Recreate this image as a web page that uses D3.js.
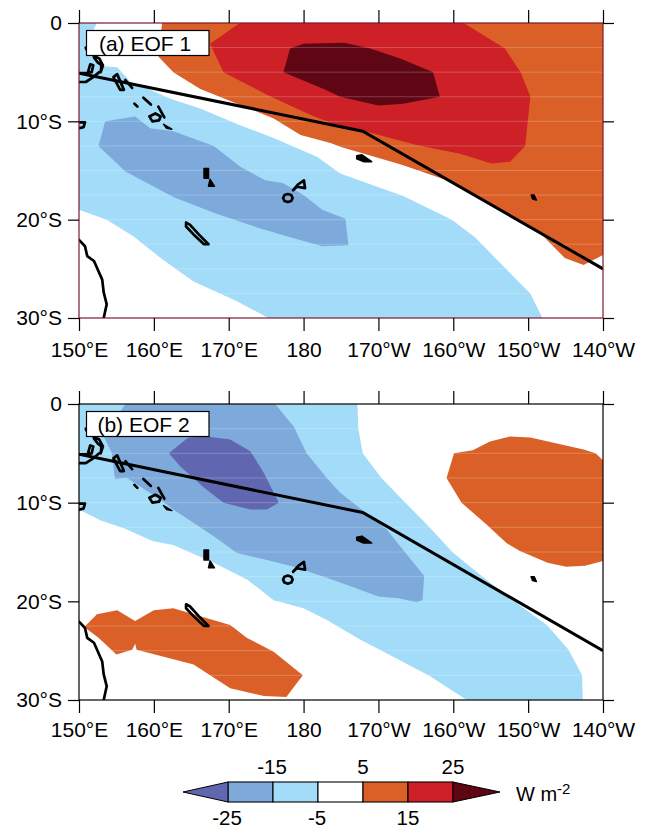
<!DOCTYPE html>
<html><head><meta charset="utf-8">
<script src="https://cdn.jsdelivr.net/npm/d3@7"></script>
<style>html,body{margin:0;padding:0;background:#fff}svg{display:block}text{font-family:"Liberation Sans",Arial,sans-serif;fill:#000}</style>
</head><body><svg id="c" width="646" height="828"></svg>
<script>
// ---- categories, ticks ----
const lonTicks=[150,160,170,180,190,200,210,220];
const lonLabels=["150°E","160°E","170°E","180","170°W","160°W","150°W","140°W"];
const latTicks=[0,-10,-20,-30];
const latLabels=["0","10°S","20°S","30°S"];
const gridLats=[-2.5,-5,-7.5,-10,-12.5,-15,-17.5,-20,-22.5,-25,-27.5];
const levels=[-25,-15,-5,5,15,25];
const levelColors=["#6067b0","#7daadb","#a3dcf8","#ffffff","#db6027","#cd2027","#5e0613"];

// ---- EOF 1 contours [lon, lat] ----
const a_lightblue=[[150,0],[152.4,0],[150.8,-2.4],[152,-3.6],[153.3,-4.4],[155.1,-4.5],[156.9,-6],[159.5,-6.8],[162.2,-7.7],[166.2,-8.7],[171.5,-10.4],[176,-11.7],[181.8,-13.6],[184.9,-15.3],[193.3,-17.6],[199.8,-20],[202.9,-21.8],[206.9,-24.9],[210.3,-27.5],[211.9,-30],[175.3,-30],[171.1,-28.3],[165.3,-26.3],[160.9,-23.9],[157.3,-21.7],[153.7,-20],[150,-19]];
const a_blue=[[152.6,-12.5],[153.5,-10],[157.5,-9.5],[159.5,-10.7],[162.6,-11],[168,-12.5],[171.5,-14.6],[174.9,-16],[177.3,-16.3],[180,-17.5],[182.5,-19],[185.6,-19.9],[186,-22.6],[182.5,-22.7],[178.7,-21.9],[174.2,-20.9],[168,-19.3],[162.6,-17.7],[156.2,-15.1]];
const a_orange=[[161.1,0],[160.6,-3.4],[162.6,-5],[166.2,-6.7],[176,-9.7],[179.6,-11.4],[183.6,-12.2],[185,-12.6],[193,-14.4],[200.3,-16.3],[206.9,-19.3],[211.4,-21.2],[214.9,-23.9],[217.4,-24.6],[220,-23.6],[220,0]];
const a_red=[[171.5,0],[167.5,-2.1],[169.3,-5],[175.1,-7.3],[180.5,-9.2],[185,-10.6],[188.2,-11],[195.1,-12.4],[200.9,-13.3],[205.1,-14.3],[207.6,-14.1],[209.6,-12.5],[210.3,-7.5],[209,-5],[206.9,-2.6],[202.7,-0.6],[201.4,0]];
const a_darkred=[[177.3,-5],[178.2,-2.6],[180,-2.1],[185.4,-2],[188.9,-2.6],[192.9,-3.6],[197.3,-5],[198.2,-7.5],[193.3,-8.2],[190,-8.4],[184.9,-7.5],[182.7,-6.7]];

// ---- EOF 2 contours [lon, lat] ----
const b_lightblue=[[150,0],[187.2,0],[187.3,-2.4],[187.9,-5],[190.4,-7.5],[193.6,-10],[196.7,-12.4],[200,-15.1],[203.6,-17.3],[207.6,-19.7],[212.5,-22.4],[215.4,-24.9],[217.2,-27.5],[217.3,-30],[201.8,-30],[196.9,-27.6],[190.7,-25.1],[187.6,-23.9],[183.1,-21.9],[180,-20.7],[176,-19.9],[172.5,-17.8],[168,-16.1],[162.6,-14.3],[159.9,-13.9],[156,-12.6],[152.9,-11.8],[150,-10.7]];
const b_blue=[[156.2,0],[153.3,-3.3],[154.4,-5],[154.8,-7.6],[156.4,-7.5],[160.9,-9.7],[162.6,-10.7],[168,-13.4],[171.1,-15.1],[175.1,-15.8],[178.7,-16.5],[183.1,-17.6],[184.9,-18.1],[190,-19.5],[192.7,-19.7],[195.1,-20.1],[195.9,-19.9],[196.1,-17.4],[193.3,-14.8],[191.1,-12.7],[184.9,-9],[183.1,-7.5],[180.4,-5],[178.7,-2.3],[176.2,0]];
const b_purple=[[162,-5],[164.6,-3.4],[167.1,-3.3],[170.2,-3.6],[172.9,-4.8],[174.7,-7],[176.7,-10],[175.1,-10.7],[172.9,-10.7],[169.3,-10],[166.6,-8.4],[163.5,-6.3]];
const b_orangeSW=[[150.7,-22.6],[152.4,-21.3],[155.1,-20.9],[157.5,-22],[160,-20.9],[162.6,-20.7],[166.2,-21.5],[170.2,-22.4],[172.4,-23.7],[176,-25.1],[179.9,-27.5],[177.7,-29.7],[174.7,-29.6],[170.2,-28.8],[165.3,-26.4],[157.7,-24.9],[157.5,-24.3],[157.1,-24.9],[155,-25.4],[152.6,-23.7]];
const b_orangeE=[[200.1,-5],[202.6,-4.7],[204.9,-3.8],[207.6,-3.3],[210.3,-3.4],[217.4,-4.6],[219,-5],[220,-5.7],[220,-15.9],[217.6,-16.4],[215.1,-16.5],[212.6,-16.1],[208.9,-14.9],[207.1,-14.1],[204.4,-12.2],[201.1,-10],[199.1,-7.5]];

// ---- SPCZ line ----
const spcz=[[150,-5.1],[187.9,-11],[220,-25]];

// ---- coastlines, outlined ----
const coastLines=[
 [[150,-22.05],[150.8,-22.7],[151.1,-23.7],[152,-24.2],[153.1,-26.1],[153.3,-27.4],[153.7,-28.6],[153.3,-30]],
 [[150.9,-2.5],[151,-2.7]],
 [[151.9,-3.3],[152.7,-3.6],[153.2,-4.3],[152.9,-5],[153,-4.3],[152.5,-4],[152,-3.5]],
 [[150,-5.1],[150.9,-5.1],[151.7,-5],[151.9,-4.3],[151.5,-4.2],[151.2,-5]],
 [[150,-6],[150.9,-6],[151.9,-5.5],[152.7,-5]],
 [[154.6,-5.5],[155.1,-5.2],[156,-6.8],[155.5,-6.8],[154.6,-5.5]],
 [[156.2,-5.8],[157.1,-6.6]],
 [[158.6,-7.6],[159.6,-8.3]],
 [[157.4,-8.2],[157.8,-8.5]],
 [[160.6,-8.5],[161.4,-9.6]],
 [[159.4,-9.5],[160.2,-9.2],[160.9,-9.5],[160.7,-9.9],[159.8,-10],[159.4,-9.5]],
 [[150,-10.1],[150.8,-10.1],[150.6,-10.6],[150,-10.7]],
 [[164.3,-20.3],[164.8,-20.5],[166,-21.5],[167.3,-22.5],[166.7,-22.5],[165.3,-21.5],[164.3,-20.7],[164.3,-20.3]],
 [[177.26,-17.8],[177.45,-17.5],[177.9,-17.39],[178.35,-17.5],[178.54,-17.8],[178.35,-18.1],[177.9,-18.21],[177.45,-18.1],[177.26,-17.8]],
 [[178.6,-17],[179.3,-16.4],[180.05,-16],[180.2,-16.8],[179.1,-16.65],[178.6,-17]]
];
// ---- small islands, solid ----
const coastSolid=[
 [[161.3,-10.3],[162.4,-10.8],[161.7,-10.7]],
 [[166.7,-14.8],[167.3,-14.8],[167.3,-15.8],[166.7,-15.8]],
 [[167.5,-15.9],[168.1,-16.6],[167.3,-16.6]],
 [[187.1,-13.5],[187.8,-13.4],[189.1,-14.1],[188,-14.1],[187.1,-13.8]],
 [[210.4,-17.5],[210.8,-17.5],[211.1,-18],[210.6,-17.9]]
];

const panels=[
 {id:"a",label:"(a) EOF 1",y0:23,y1:318,frame:"#7d1a2a",labelMid:145,labelDy:39,
  fills:[[a_lightblue,2],[a_blue,1],[a_orange,4],[a_red,5],[a_darkred,6]]},
 {id:"b",label:"(b) EOF 2",y0:404,y1:700,frame:"#000",labelMid:143.5,labelDy:37,
  fills:[[b_lightblue,2],[b_blue,1],[b_purple,0],[b_orangeSW,4],[b_orangeE,4]]}
];

const svg=d3.select("#c");
const x=d3.scaleLinear().domain([150,220]).range([79,603]);
const FS=21;

panels.forEach(p=>{
  const y=d3.scaleLinear().domain([0,-30]).range([p.y0,p.y1]);
  const line=d3.line().x(d=>x(d[0])).y(d=>y(d[1]));
  const g=svg.append("g");
  const cid="clip"+p.id;
  g.append("clipPath").attr("id",cid).append("rect")
    .attr("x",x(150)).attr("y",y(0)).attr("width",x(220)-x(150)).attr("height",y(-30)-y(0));
  const map=g.append("g").attr("clip-path",`url(#${cid})`);
  map.selectAll("path.fill").data(p.fills).join("path").attr("class","fill")
    .attr("d",d=>line(d[0])+"Z").attr("fill",d=>levelColors[d[1]]);
  map.selectAll("line.seam").data(gridLats).join("line").attr("class","seam")
    .attr("x1",x(150)).attr("x2",x(220)).attr("y1",d=>y(d)).attr("y2",d=>y(d))
    .attr("stroke","#fff").attr("stroke-opacity",0.22).attr("stroke-width",1);
  map.selectAll("path.solid").data(coastSolid).join("path").attr("class","solid")
    .attr("d",d=>line(d)+"Z").attr("fill","#000").attr("stroke","#000").attr("stroke-width",1.5).attr("stroke-linejoin","round");
  map.selectAll("path.coast").data(coastLines).join("path").attr("class","coast")
    .attr("d",line).attr("fill","none").attr("stroke","#000").attr("stroke-width",2.7).attr("stroke-linejoin","round").attr("stroke-linecap","round");
  map.append("path").attr("d",line(spcz)).attr("fill","none").attr("stroke","#000").attr("stroke-width",3);

  // frame
  g.append("rect").attr("x",x(150)).attr("y",y(0)).attr("width",x(220)-x(150)).attr("height",y(-30)-y(0))
    .attr("fill","none").attr("stroke",p.frame).attr("stroke-width",1.2);

  // axes
  const style=s=>{s.select(".domain").remove();s.selectAll(".tick line").attr("stroke","#000").attr("stroke-width",1.2);};
  const bottom=g.append("g").attr("transform",`translate(0,${y(-30)})`)
    .call(d3.axisBottom(x).tickValues(lonTicks).tickSize(13).tickPadding(5).tickFormat((d,i)=>lonLabels[i]));
  bottom.call(style);
  bottom.selectAll("text").attr("font-size",FS).attr("dy",0).attr("y",p.labelDy);
  const top=g.append("g").attr("transform",`translate(0,${y(0)})`)
    .call(d3.axisTop(x).tickValues(lonTicks).tickSize(13).tickFormat(""));
  top.call(style);
  const left=g.append("g").attr("transform",`translate(${x(150)},0)`)
    .call(d3.axisLeft(y).tickValues(latTicks).tickSize(11).tickPadding(6).tickFormat((d,i)=>latLabels[i]));
  left.call(style);
  left.selectAll("text").attr("font-size",FS).attr("x",-17);
  const right=g.append("g").attr("transform",`translate(${x(220)},0)`)
    .call(d3.axisRight(y).tickValues(latTicks).tickSize(11).tickFormat(""));
  right.call(style);
  svg.selectAll(".tick text").attr("font-family",'"Liberation Sans",Arial,sans-serif').attr("fill","#000");

  // label
  g.append("rect").attr("x",86.5).attr("y",y(0)+7.5).attr("width",122.5).attr("height",25)
    .attr("fill","#fff").attr("stroke","#000").attr("stroke-width",1.2);
  g.append("text").attr("x",p.labelMid).attr("y",y(0)+27.5).attr("text-anchor","middle").attr("font-size",FS).text(p.label);
});

// ---- colourbar ----
const lx=d3.scaleLinear().domain([-25,25]).range([228,453]);
const lg=svg.append("g");
const by0=782,by1=802,bym=(by0+by1)/2;
const cb=d3.range(levels.length-1);
lg.selectAll("rect.seg").data(cb).join("rect").attr("class","seg")
  .attr("x",i=>lx(levels[i])).attr("y",by0).attr("width",i=>lx(levels[i+1])-lx(levels[i])).attr("height",by1-by0)
  .attr("fill",i=>levelColors[i+1]).attr("stroke","#000").attr("stroke-width",1.1);
lg.append("path").attr("d",`M${lx(-25)},${by0}L183,${bym}L${lx(-25)},${by1}Z`).attr("fill",levelColors[0]).attr("stroke","#000").attr("stroke-width",1);
lg.append("path").attr("d",`M${lx(25)},${by0}L500,${bym}L${lx(25)},${by1}Z`).attr("fill",levelColors[6]).attr("stroke","#000").attr("stroke-width",1);
lg.selectAll("text.lv").data(levels).join("text").attr("class","lv")
  .attr("x",d=>lx(d)+(d<0?-1:0)).attr("y",(d,i)=>i%2===0?825:774)
  .attr("text-anchor","middle").attr("font-size",20.5).text(d=>d);
const u=lg.append("text").attr("x",516).attr("y",801).attr("font-size",20);
u.append("tspan").text("W m");
u.append("tspan").attr("dy",-7).attr("font-size",15).text("-2");
</script></body></html>
